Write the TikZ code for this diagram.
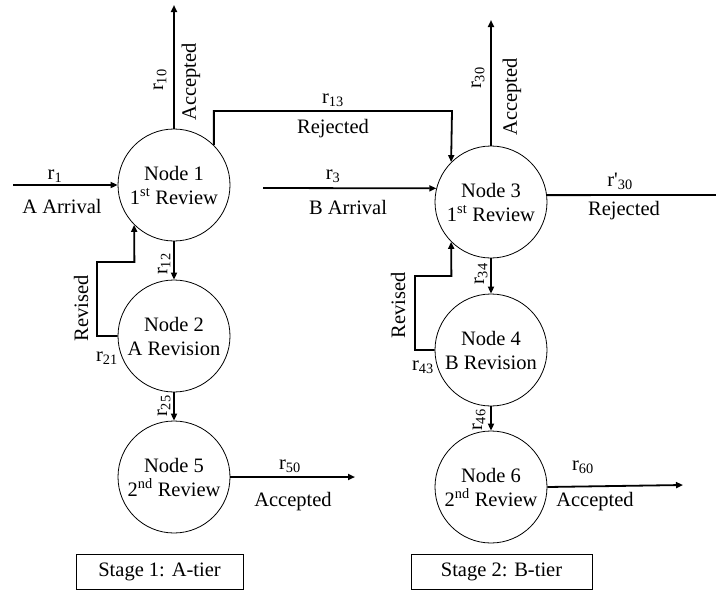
\documentclass[tikz,border=0pt]{standalone}
\usepackage{fontspec}
\setmainfont{Liberation Serif}[Ligatures=TeXOff]
\usetikzlibrary{arrows.meta}
\begin{document}
\begin{tikzpicture}[x=1pt,y=-1pt,
  every node/.style={font=\fontsize{20.5}{24}\selectfont},
  stnode/.style={draw,circle,line width=0.8pt,minimum size=112pt,inner sep=0pt,align=center},
  flow/.style={line width=1.8pt,-{Triangle[length=7pt,width=6pt]}},
  flowplain/.style={line width=1.8pt},
  stagebox/.style={draw,line width=0.8pt,minimum width=167pt,minimum height=35pt,inner sep=0pt}]
\useasboundingbox (0,0) rectangle (716,590);
% nodes
\node[stnode] (n1) at (174,185) {Node 1\\1\textsuperscript{st} Review};
\node[stnode] (n2) at (174,336) {Node 2\\A Revision};
\node[stnode] (n5) at (174,477) {Node 5\\2\textsuperscript{nd} Review};
\node[stnode] (n3) at (491,202) {Node 3\\1\textsuperscript{st} Review};
\node[stnode] (n4) at (491,350) {Node 4\\B Revision};
\node[stnode] (n6) at (491,487) {Node 6\\2\textsuperscript{nd} Review};
% free ends
\coordinate (a1) at (13,185);
\coordinate (b3) at (263,188);
\coordinate (t1) at (174,5);
\coordinate (t3) at (491,20);
\coordinate (e30) at (716,195);
\coordinate (e50) at (355,477);
\coordinate (e60) at (683,485);
% connectors
\draw[flow] (a1) -- (n1.west);
\draw[flow] (n1.north) -- (t1);
\draw[flow] (n1.45) |- (452,111) -- (n3.135);
\draw[flow] (b3) -- (n3.166);
\draw[flow] (n3.north) -- (t3);
\draw[flowplain] (n3.7) -- (e30);
\draw[flow] (n1.south) -- (n2.north);
\draw[flow] (n2.west) -- (97,336) -- (97,262) -- (134.4,262) -- (n1.225);
\draw[flow] (n2.south) -- (n5.north);
\draw[flow] (n5.east) -- (e50);
\draw[flow] (n3.south) -- (n4.north);
\draw[flow] (n4.west) -- (415,350) -- (415,276) -- (451.4,276) -- (n3.225);
\draw[flow] (n4.south) -- (n6.north);
\draw[flow] (n6.east) -- (e60);
% labels
\node (l1) at (55,176) {r\textsubscript{1}};
\node (l1b) at (62,206) {A Arrival};
\node[rotate=90] (l10) at (160,80) {r\textsubscript{10}};
\node[rotate=90] (l10b) at (191,82) {Accepted};
\node (l13) at (333,100) {r\textsubscript{13}};
\node (l13b) at (333,129) {Rejected};
\node (l3) at (333,176) {r\textsubscript{3}};
\node (l3b) at (348,207) {B Arrival};
\node[rotate=90] (l30) at (478,78) {r\textsubscript{30}};
\node[rotate=90] (l30b) at (512,97) {Accepted};
\node (l30p) at (620,181) {r'\textsubscript{30}};
\node (l30pb) at (624,211) {Rejected};
\node[rotate=90] (l12) at (164,264) {r\textsubscript{12}};
\node[rotate=90] (lrev1) at (81,308) {Revised};
\node (l21) at (107,358) {r\textsubscript{21}};
\node[rotate=90] (l25) at (164,406) {r\textsubscript{25}};
\node (l50) at (290,466) {r\textsubscript{50}};
\node (l50b) at (293,502) {Accepted};
\node[rotate=90] (l34) at (481,274) {r\textsubscript{34}};
\node[rotate=90] (lrev2) at (398,305) {Revised};
\node (l43) at (423,367) {r\textsubscript{43}};
\node[rotate=90] (l46) at (479,420) {r\textsubscript{46}};
\node (l60) at (583,467) {r\textsubscript{60}};
\node (l60b) at (595,502) {Accepted};
\node[stagebox] (s1) at (159.5,571.5) {Stage 1: A-tier};
\node[stagebox,minimum width=181pt] (s2) at (501.5,571.5) {Stage 2: B-tier};
\end{tikzpicture}
\end{document}
